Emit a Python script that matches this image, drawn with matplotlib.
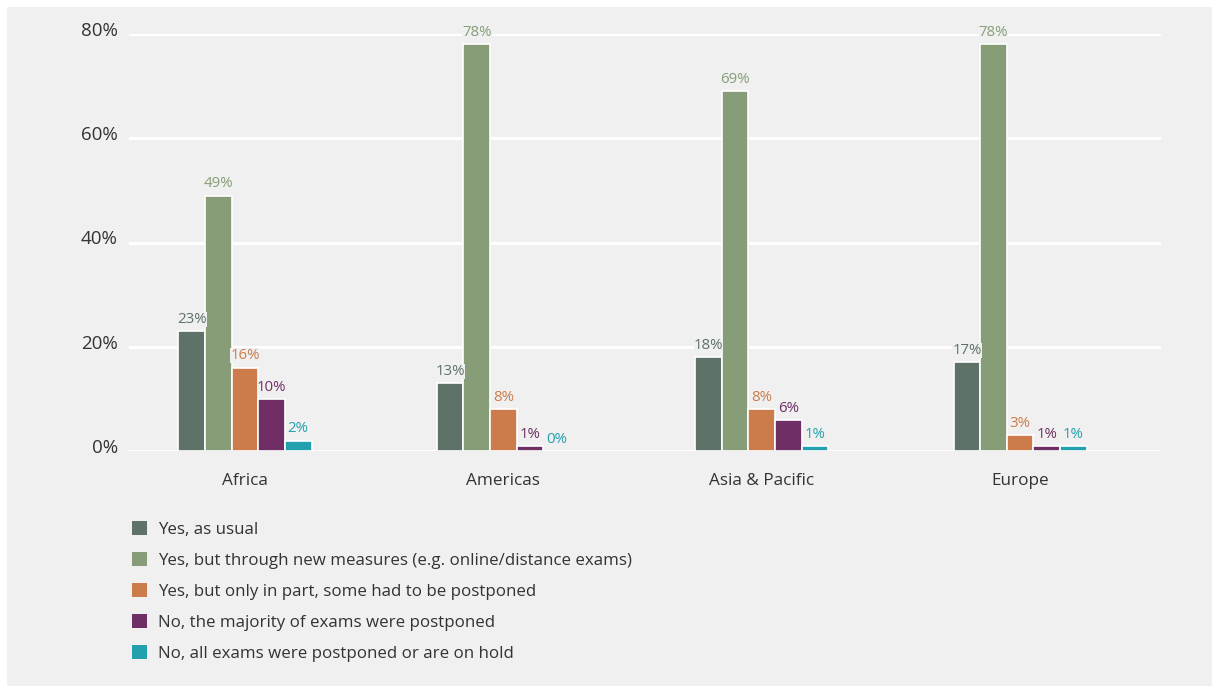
import matplotlib
matplotlib.use("Agg")
import matplotlib.pyplot as plt
from matplotlib.patches import Patch, Rectangle
from matplotlib.transforms import ScaledTranslation
import numpy as np

plt.rcParams['font.family'] = ['Open Sans', 'DejaVu Sans']

regions = ["Africa", "Americas", "Asia & Pacific", "Europe"]
series = [
    "Yes, as usual",
    "Yes, but through new measures (e.g. online/distance exams)",
    "Yes, but only in part, some had to be postponed",
    "No, the majority of exams were postponed",
    "No, all exams were postponed or are on hold",
]
yes_usual = [23, 13, 18, 17]
yes_new = [49, 78, 69, 78]
yes_part = [16, 8, 8, 3]
no_majority = [10, 1, 6, 1]
no_all = [2, 0, 1, 1]
values = [yes_usual, yes_new, yes_part, no_majority, no_all]
colors = ["#5e7268", "#869d78", "#cc7b4a", "#6f2e64", "#22a0ad"]
yticks = [0, 20, 40, 60, 80]

bg = "#eff0ef"
fig = plt.figure(figsize=(12.12, 6.86), dpi=100, facecolor="white")
fig.patches.append(Rectangle((7 / 1212, 0), 1, 1 - 7 / 686, transform=fig.transFigure,
                             facecolor=bg, edgecolor="none", zorder=-10))

ax = fig.add_axes([129 / 1212, 1 - 451 / 686, (1161 - 129) / 1212, (451 - 34) / 686])
ax.set_zorder(2)
ax.patch.set_alpha(0)

x = np.arange(len(regions))
w = 0.103
for i, (vals, col) in enumerate(zip(values, colors)):
    pos = x + (i - 2) * w
    ax.bar(pos, vals, width=w, color=col, edgecolor="white", linewidth=1.2, zorder=3)
    for p, v in zip(pos, vals):
        ax.text(p, v + 0.8, f"{v}%", ha="center", va="bottom", color=col,
                fontsize=10.8, zorder=4,
                bbox=dict(facecolor=bg, edgecolor="none", pad=0.0))

ax.set_xlim(-0.449, 3.545)
ax.set_ylim(0, 80)
ax.set_yticks(yticks)
ax.set_yticklabels([f"{t}%" for t in yticks], fontsize=13.5, color="#333333")
ax.set_xticks(x)
ax.set_xticklabels(regions, fontsize=12.3, color="#333333")
ax.tick_params(axis="both", length=0)
ax.tick_params(axis="y", pad=8)
ax.tick_params(axis="x", pad=16)
offset = ScaledTranslation(0, 3 / 100, fig.dpi_scale_trans)
for lbl in ax.get_yticklabels():
    lbl.set_verticalalignment("center")
    lbl.set_transform(lbl.get_transform() + offset)
ax.grid(axis="y", color="white", linewidth=2.2, zorder=1)
ax.set_axisbelow(True)
for s in ax.spines.values():
    s.set_visible(False)

handles = [Patch(facecolor=c, edgecolor="none") for c in colors]
leg = fig.legend(handles, series, loc="upper left", bbox_to_anchor=(117 / 1212, 1 - 506 / 686),
                 frameon=False, fontsize=12.2, handlelength=0.85, handleheight=0.85,
                 handletextpad=0.65, labelspacing=0.85, labelcolor="#333333")
leg.set_zorder(3)

fig.savefig("out.png", dpi=100, facecolor=fig.get_facecolor())
